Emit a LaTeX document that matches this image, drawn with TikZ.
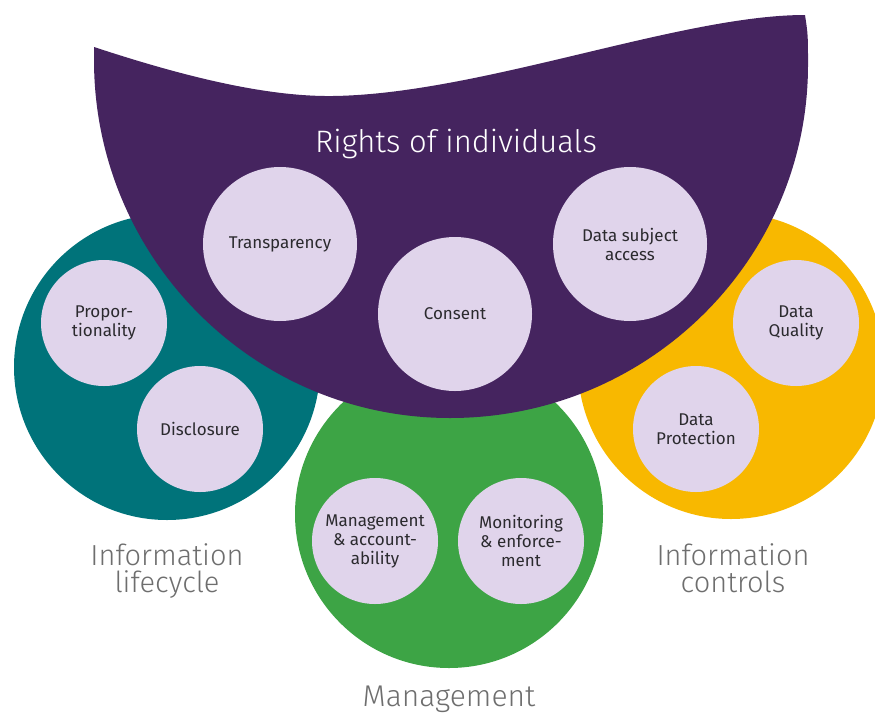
\documentclass[tikz,border=0pt]{standalone}
\usepackage{fontspec}
\setmainfont{Fira Sans}
\newfontfamily\lightsans{Fira Sans Light}

\definecolor{rightsviolet}{HTML}{45245F}
\definecolor{lifecycleteal}{HTML}{00737A}
\definecolor{managementgreen}{HTML}{3DA445}
\definecolor{controlsyellow}{HTML}{F8B800}
\definecolor{topiclilac}{HTML}{E0D4EB}
\definecolor{topicink}{HTML}{2B2A2E}
\definecolor{headinggray}{HTML}{6E6E6E}

\begin{document}
\begin{tikzpicture}[
    x=1pt, y=-1pt,
    every node/.style={inner sep=0pt, outer sep=0pt},
    area/.style={circle, minimum size=306pt},
    topic/.style={circle, fill=topiclilac, text=topicink, align=center, font=\fontsize{17}{19}\selectfont},
    heading/.style={text=headinggray, align=center, font=\lightsans\fontsize{29}{27}\selectfont},
]
    \useasboundingbox (0,0) rectangle (875,715);

    \node[area, fill=lifecycleteal] (lifecycle) at (167,367) {};
    \node[area, fill=managementgreen, minimum size=308pt] (management) at (449,514) {};
    \node[area, fill=controlsyellow] (controls) at (731,366) {};

    % the big bowl lies on top of the three
    \fill[rightsviolet] (94,47) -- (94,60)
        arc[start angle=180, end angle=90, x radius=356, y radius=358]
        arc[start angle=90, end angle=0, x radius=358, y radius=353]
        .. controls (808,35) .. (805,15)
        .. controls (680,15) and (480,94) .. (333,96)
        .. controls (260,97) and (170,72) .. (94,47) -- cycle;
    \node[anchor=base, text=white, font=\lightsans\fontsize{31}{36}\selectfont] (rights) at (456,152) {Rights of individuals};

    \foreach \name/\pos/\size/\txt in {
        transparency/{280,244}/154pt/Transparency,
        consent/{455,314}/154pt/Consent,
        access/{630,244}/154pt/{Data subject\\access},
        proportionality/{104,323}/126pt/{Propor-\\tionality},
        disclosure/{200,429}/126pt/Disclosure,
        quality/{796,323}/126pt/{Data\\Quality},
        protection/{696,429}/126pt/{Data\\Protection},
        accountability/{375,541}/126pt/{Management\\\& account-\\ability},
        enforcement/{521,541}/126pt/{Monitoring\\\& enforce-\\ment}%
    }
        \node[topic, minimum size=\size] (\name) at (\pos) {\txt};

    \node[heading] (lifecyclelabel) at (167,571) {Information\\lifecycle};
    \node[heading] (controlslabel) at (733,568) {Information\\controls};
    \node[heading, anchor=base, font=\lightsans\fontsize{30}{30}\selectfont] (managementlabel) at (449,706) {Management};
\end{tikzpicture}
\end{document}
